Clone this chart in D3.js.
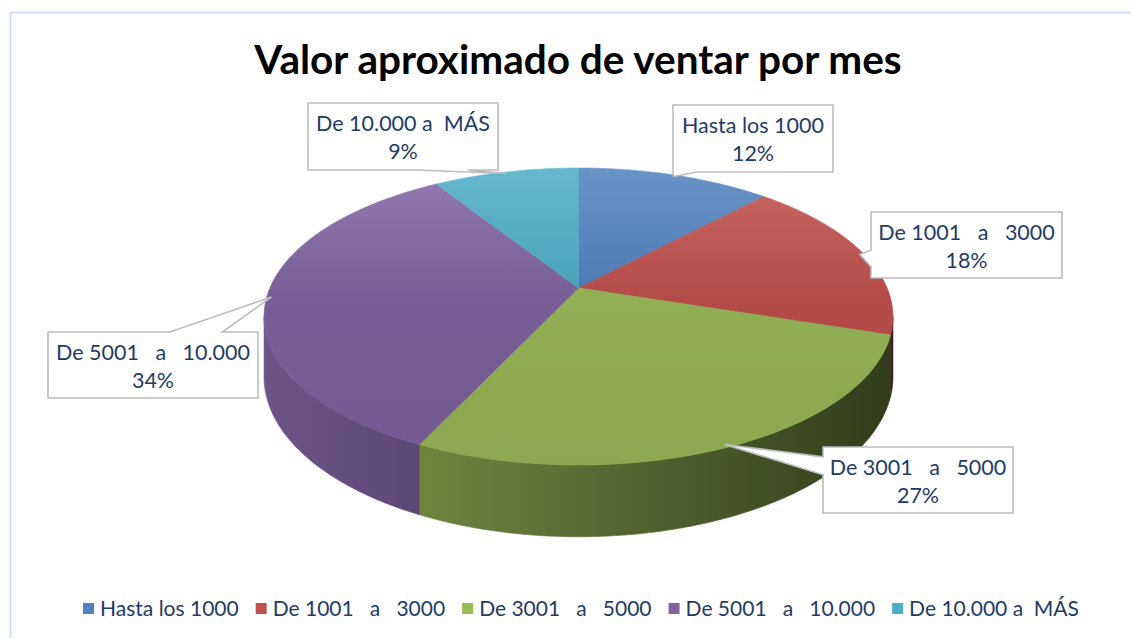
<!DOCTYPE html>
<html>
<head>
<meta charset="utf-8">
<script src="https://cdn.jsdelivr.net/npm/d3@7"></script>
<style>
body { margin: 0; background: #fff; }
text { font-family: Lato, "Open Sans", sans-serif; white-space: pre; }
</style>
</head>
<body>
<div id="chart"></div>
<script>
// data
var title = "Valor aproximado de ventar por mes";
var categories = ["Hasta los 1000", "De 1001   a   3000", "De 3001   a   5000", "De 5001   a   10.000", "De 10.000 a  MÁS"];
var percents = [12, 18, 27, 34, 9];
var colors = ["#4F81BD", "#C0504D", "#9BBB59", "#8064A2", "#4BACC6"];

// callout boxes (layout only), same order as categories
var calloutBoxes = [
    {x: 673, y: 105, w: 160, h: 67, side: "bottom", b0: 0.0, b1: 0.15},
    {x: 871, y: 212, w: 191, h: 66, side: "left", b0: 0.58, b1: 0.83},
    {x: 823, y: 447, w: 190, h: 66, side: "left", b0: 0.15, b1: 0.42},
    {x: 48, y: 332, w: 210, h: 66, side: "top", b0: 0.58, b1: 0.83},
    {x: 308, y: 103, w: 190, h: 67, side: "bottom", b0: 0.57, b1: 0.84}
];

var width = 1131, height = 638;
var textColor = "#1F3B66";

var svg = d3.select("#chart").append("svg")
    .attr("width", width)
    .attr("height", height);

var defs = svg.append("defs");

// chart frame
svg.append("rect")
    .attr("x", 10.5).attr("y", 12.5)
    .attr("width", width).attr("height", height)
    .attr("fill", "none")
    .attr("stroke", "#c6d9f1")
    .attr("stroke-width", 1.5);

// title
svg.append("text")
    .attr("x", 578).attr("y", 74)
    .attr("text-anchor", "middle")
    .attr("font-size", 40.5)
    .attr("font-weight", "bold")
    .attr("fill", "#000")
    .text(title);

// pie geometry, simple perspective of a tilted disc
var cx = 578.5, cy = 288, rx = 308.6, ry = 143, persp = 0.192, depth = 58;
var topY = cy - ry / (1 + persp), botY = cy + ry / (1 - persp);

function proj(a, k) {
    k = k || 1;
    var u = Math.sin(a) * k, v = -Math.cos(a) * k;
    var s = 1 / (1 - persp * v);
    return [cx + rx * u * s, cy + ry * v * s, s];
}

var vis0 = Math.acos(-persp), vis1 = 2 * Math.PI - Math.acos(-persp);

var arcs = d3.pie().sort(null).value(function(d) { return d; })(percents);

function scaleColor(c, f) {
    var r = d3.rgb(c);
    return d3.rgb(r.r * f, r.g * f, r.b * f).formatHex();
}

// gradients
colors.forEach(function(c, i) {
    var g = defs.append("linearGradient")
        .attr("id", "top" + i)
        .attr("gradientUnits", "userSpaceOnUse")
        .attr("x1", 0).attr("y1", topY).attr("x2", 0).attr("y2", botY);
    g.append("stop").attr("offset", 0).attr("stop-color", d3.interpolateRgb(c, "#fff")(0.15));
    g.append("stop").attr("offset", 0.45).attr("stop-color", scaleColor(c, 0.93));
    g.append("stop").attr("offset", 1).attr("stop-color", scaleColor(c, 0.9));

    var s = defs.append("linearGradient")
        .attr("id", "side" + i)
        .attr("gradientUnits", "userSpaceOnUse")
        .attr("x1", cx - rx).attr("y1", 0).attr("x2", cx + rx).attr("y2", 0);
    s.append("stop").attr("offset", 0).attr("stop-color", scaleColor(c, 0.84));
    s.append("stop").attr("offset", 1).attr("stop-color", scaleColor(c, 0.32));
});

function arcPoints(a0, a1) {
    var n = Math.max(2, Math.ceil((a1 - a0) / 0.01));
    return d3.range(n + 1).map(function(i) { return proj(a0 + (a1 - a0) * i / n); });
}

var line = d3.line();

function topPath(d) {
    var pts = [[cx, cy]].concat(arcPoints(d.startAngle, d.endAngle).map(function(p) { return [p[0], p[1]]; }));
    return line(pts) + "Z";
}

function sidePath(d) {
    var a0 = Math.max(d.startAngle, vis0), a1 = Math.min(d.endAngle, vis1);
    if (a1 <= a0) return null;
    var pts = arcPoints(a0, a1);
    var top = pts.map(function(p) { return [p[0], p[1]]; });
    var bot = pts.map(function(p) { return [p[0], p[1] + depth * p[2]]; }).reverse();
    return line(top.concat(bot)) + "Z";
}

var pie = svg.append("g");

// side walls
pie.selectAll(".side")
    .data(arcs.filter(function(d) { return sidePath(d) !== null; }))
    .enter().append("path")
    .attr("class", "side")
    .attr("d", sidePath)
    .attr("fill", function(d) { return "url(#side" + d.index + ")"; })
    .attr("stroke", function(d) { return "url(#side" + d.index + ")"; })
    .attr("stroke-width", 0.6);

// top faces
pie.selectAll(".slice")
    .data(arcs)
    .enter().append("path")
    .attr("class", "slice")
    .attr("d", topPath)
    .attr("fill", function(d) { return "url(#top" + d.index + ")"; })
    .attr("stroke", function(d) { return "url(#top" + d.index + ")"; })
    .attr("stroke-width", 0.6);

// callouts
function calloutPath(b, tip) {
    var x0 = b.x, y0 = b.y, x1 = b.x + b.w, y1 = b.y + b.h, pts, t0, t1;
    if (b.side === "bottom") {
        t0 = x0 + b.w * b.b0; t1 = x0 + b.w * b.b1;
        pts = [[x0, y0], [x1, y0], [x1, y1], [t1, y1], tip, [t0, y1], [x0, y1]];
    } else if (b.side === "top") {
        t0 = x0 + b.w * b.b0; t1 = x0 + b.w * b.b1;
        pts = [[x0, y0], [t0, y0], tip, [t1, y0], [x1, y0], [x1, y1], [x0, y1]];
    } else {
        t0 = y0 + b.h * b.b0; t1 = y0 + b.h * b.b1;
        pts = [[x0, y0], [x1, y0], [x1, y1], [x0, y1], [x0, t1], tip, [x0, t0]];
    }
    return line(pts) + "Z";
}

var labels = svg.append("g").selectAll("g")
    .data(arcs)
    .enter().append("g");

labels.append("path")
    .attr("d", function(d) {
        var p = proj((d.startAngle + d.endAngle) / 2, 0.985);
        return calloutPath(calloutBoxes[d.index], [p[0], p[1]]);
    })
    .attr("fill", "#fff")
    .attr("stroke", "#bcbcbc")
    .attr("stroke-width", 1.6)
    .attr("stroke-linejoin", "miter");

labels.append("text")
    .attr("x", function(d) { var b = calloutBoxes[d.index]; return b.x + b.w / 2; })
    .attr("y", function(d) { return calloutBoxes[d.index].y + 28; })
    .attr("text-anchor", "middle")
    .attr("font-size", 21.5)
    .attr("fill", textColor)
    .text(function(d) { return categories[d.index]; });

labels.append("text")
    .attr("x", function(d) { var b = calloutBoxes[d.index]; return b.x + b.w / 2; })
    .attr("y", function(d) { return calloutBoxes[d.index].y + 56; })
    .attr("text-anchor", "middle")
    .attr("font-size", 21.5)
    .attr("fill", textColor)
    .text(function(d) { return d.data + "%"; });

// legend
var legend = svg.append("g");
var items = legend.selectAll("g")
    .data(categories)
    .enter().append("g");

items.append("rect")
    .attr("width", 11).attr("height", 11)
    .attr("y", 603)
    .attr("fill", function(d, i) { return colors[i]; });

items.append("text")
    .attr("x", 17)
    .attr("y", 616)
    .attr("font-size", 21)
    .attr("fill", textColor)
    .text(function(d) { return d; });

var xpos = 0, offsets = [];
items.each(function() {
    offsets.push(xpos);
    xpos += 17 + d3.select(this).select("text").node().getComputedTextLength() + 17;
});
var total = xpos - 17;
var startX = 581 - total / 2;
items.attr("transform", function(d, i) { return "translate(" + (startX + offsets[i]) + ",0)"; });
</script>
</body>
</html>
